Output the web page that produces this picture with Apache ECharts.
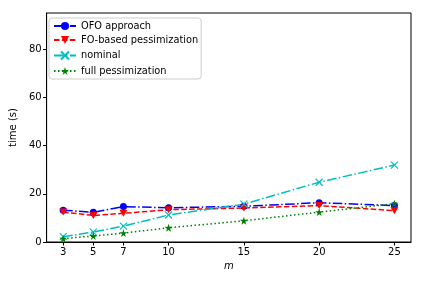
<!DOCTYPE html>
<html><head><meta charset="utf-8">
<script src="https://cdn.jsdelivr.net/npm/echarts@6/dist/echarts.min.js"></script>
<style>html,body{margin:0;padding:0;background:#fff}#c{width:425px;height:284px}</style>
</head><body><div id="c"></div>
<script>
const mValues = [3, 5, 7, 10, 15, 20, 25];
const ofoApproach = [13.2, 12.3, 14.7, 14.2, 14.8, 16.3, 15.1];
const foBased = [12.4, 11.0, 11.9, 13.4, 14.1, 15.1, 13.0];
const nominal = [2.2, 4.1, 6.6, 11.2, 15.7, 24.8, 31.9];
const fullPess = [1.4, 2.5, 3.7, 5.9, 8.8, 12.4, 15.9];
const yTicks = [0, 20, 40, 60, 80];

const X_PATH = 'path://M0,0L10,10M10,0L0,10';
const STAR = 'path://M50,0L61.8,35.4L100,35.4L69.1,57.3L80.9,92.7L50,70.8L19.1,92.7L30.9,57.3L0,35.4L38.2,35.4Z';
const TRI_DOWN = 'path://M0,0L10,0L5,9Z';

function pairs(v){ return mValues.map((m,i)=>[m, v[i]]); }
const font = 'DejaVu Sans';
const chart = echarts.init(document.getElementById('c'), null, {renderer:'canvas'});
chart.setOption({
  animation:false,
  textStyle:{fontFamily:font},
  grid:{left:43, right:14, top:13, bottom:42, show:true, borderColor:'#000', borderWidth:1, backgroundColor:'transparent'},
  legend:{
    left:49, top:18, orient:'vertical', itemGap:4, itemWidth:22, itemHeight:10,
    backgroundColor:'rgba(255,255,255,0.8)', borderColor:'#ccc', borderWidth:1, borderRadius:3,
    padding:[3,3,3,4],
    textStyle:{fontFamily:font, fontSize:9.8, color:'#000'}
  },
  xAxis:{
    type:'value', min:1.9, max:26.1,
    name:'m', nameLocation:'middle', nameGap:17,
    nameTextStyle:{fontFamily:font, fontSize:10, fontStyle:'italic', color:'#000'},
    axisLine:{lineStyle:{color:'#000'}},
    axisTick:{length:3.5, lineStyle:{color:'#000'}, customValues:mValues},
    axisLabel:{fontSize:10, color:'#000', margin:5, customValues:mValues},
    splitLine:{show:false}
  },
  yAxis:{
    type:'value', min:0, max:95,
    name:'time (s)', nameLocation:'middle', nameGap:28, nameRotate:90,
    nameTextStyle:{fontFamily:font, fontSize:10, color:'#000'},
    axisLine:{show:true, lineStyle:{color:'#000'}},
    axisTick:{show:true, length:3.5, lineStyle:{color:'#000'}, customValues:yTicks},
    axisLabel:{fontSize:10, color:'#000', margin:5, customValues:yTicks},
    splitLine:{show:false}
  },
  series:[
    {name:'OFO approach', type:'line', data:pairs(ofoApproach), symbol:'circle', symbolSize:7,
     itemStyle:{color:'#0000ff'}, lineStyle:{color:'#0000ff', width:1.5, type:[9.6,2.4,1.5,2.4]}},
    {name:'FO-based pessimization', type:'line', data:pairs(foBased), symbol:TRI_DOWN, symbolSize:[8,7],
     itemStyle:{color:'#ff0000'}, lineStyle:{color:'#ff0000', width:1.5, type:[5.5,2.4]}},
    {name:'nominal', type:'line', data:pairs(nominal), symbol:X_PATH, symbolSize:7,
     itemStyle:{color:'none', borderColor:'#00bfbf', borderWidth:1.2}, lineStyle:{color:'#00bfbf', width:1.5, type:[9.6,2.4,1.5,2.4]}},
    {name:'full pessimization', type:'line', data:pairs(fullPess), symbol:STAR, symbolSize:8,
     itemStyle:{color:'#008000'}, lineStyle:{color:'#008000', width:1.5, type:[1.5,2.5]}}
  ]
});
</script></body></html>
